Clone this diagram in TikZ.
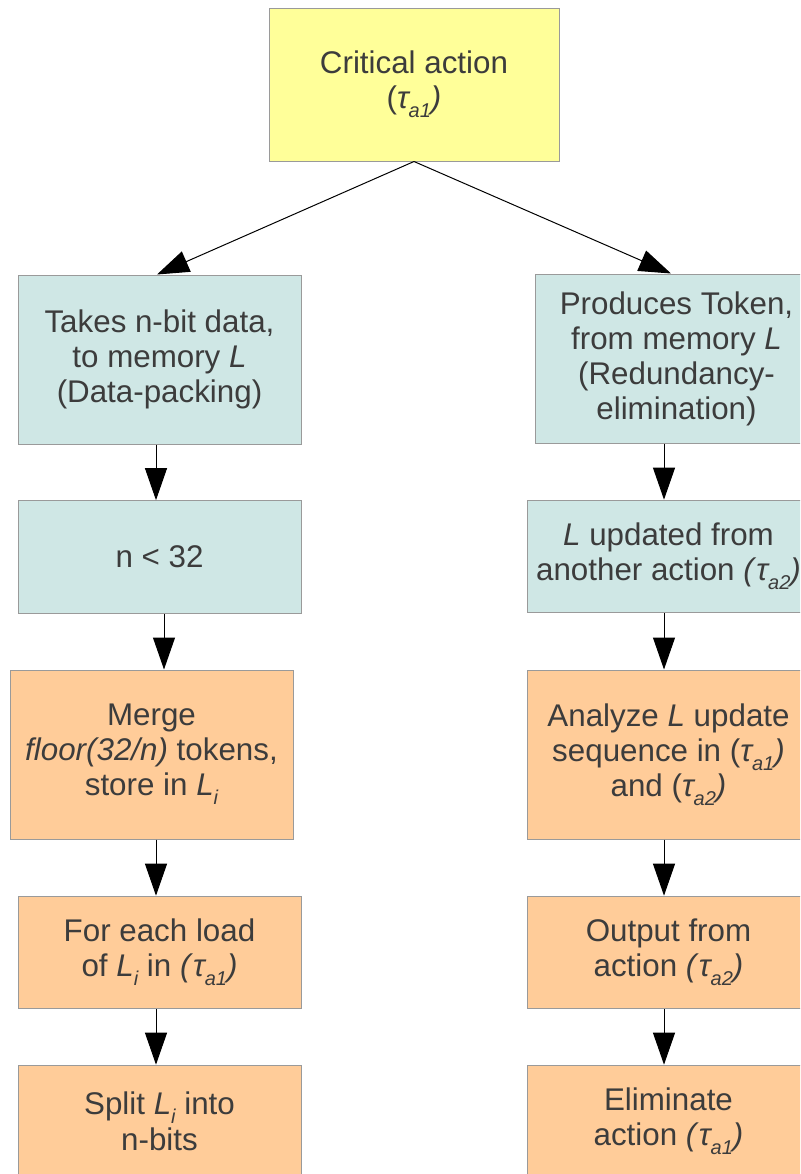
\documentclass[tikz,border=0pt]{standalone}
\usepackage{fontspec}
\setmainfont{Liberation Sans}
\usetikzlibrary{arrows.meta}
\definecolor{boxyellow}{HTML}{FFFF99}
\definecolor{boxcyan}{HTML}{CFE7E5}
\definecolor{boxorange}{HTML}{FFCC99}
\definecolor{boxline}{HTML}{9A9A9A}
\definecolor{txt}{HTML}{3C3C3C}
\newcommand\sbs[1]{\raisebox{-6.5pt}{\fontsize{15}{15}\selectfont\itshape #1}}
\newcommand\tsub[1]{\textit{τ\sbs{a#1})}}
\newcommand\Lsub{\textit{L\sbs{i}}}
\tikzset{
  box/.style={draw=boxline, line width=0.75pt, inner sep=0pt, align=center,
    text=txt, font=\fontsize{23.5}{26.25}\selectfont, minimum width=212.25pt},
  tallbox/.style={box, minimum height=126.75pt},
  shortbox/.style={box, minimum height=84.5pt},
  cyanbox/.style={fill=boxcyan},
  orangebox/.style={fill=boxorange},
  arr/.style={draw=black, line width=0.75pt, -{Triangle[length=24pt, width=16.5pt]}}
}
\begin{document}
\begin{tikzpicture}[x=0.75pt, y=-0.75pt]
\useasboundingbox (0,0) rectangle (800,1174);
\clip (0,0) rectangle (800,1174);
\fill[white] (0,0) rectangle (800,1174);
% top
\node[box, fill=boxyellow, minimum width=217.5pt, minimum height=114.75pt] (T) at (414,84.5) {Critical action\\(\tsub{1}};
% left column
\node[tallbox, cyanbox] (L1) at (159.5,359.5) {Takes n-bit data,\\to memory \textit{L}\\(Data-packing)};
\node[shortbox, cyanbox] (L2) at (159.5,557) {n < 32};
\node[tallbox, orangebox] (L3) at (151.5,754.5) {Merge\\\textit{floor(32/n)} tokens,\\store in \Lsub};
\node[shortbox, orangebox] (L4) at (159.5,952.5) {For each load\\of \Lsub{} in \textit{(}\tsub{1}};
\node[shortbox, orangebox] (L5) at (159.5,1121.5) {Split \Lsub{} into\\[1pt]n-bits};
% right column
\node[tallbox, cyanbox] (R1) at (676.5,358.5) {Produces Token,\\from memory \textit{L}\\(Redundancy-\\elimination)};
\node[shortbox, cyanbox] (R2) at (668.5,556.5) {\textit{L} updated from\\another action \textit{(}\tsub{2}};
\node[tallbox, orangebox] (R3) at (668.5,754.5) {Analyze \textit{L} update\\sequence in (\tsub{1}\\and (\tsub{2}};
\node[shortbox, orangebox] (R4) at (668.5,952.5) {Output from\\action \textit{(}\tsub{2}};
\node[shortbox, orangebox] (R5) at (668.5,1121.5) {Eliminate\\action \textit{(}\tsub{1}};
% arrow columns
\coordinate (tl) at (157,0);
\coordinate (tr) at (671,0);
\coordinate (cl) at (156,0);
\coordinate (cm) at (164,0);
\coordinate (cr) at (664,0);
% connectors
\draw[arr] (T.south) -- (L1.north -| tl);
\draw[arr] (T.south) -- (R1.north -| tr);
\draw[arr] (L1.south -| cl) -- (L2.north -| cl);
\draw[arr] (L2.south -| cm) -- (L3.north -| cm);
\draw[arr] (L3.south -| cl) -- (L4.north -| cl);
\draw[arr] (L4.south -| cl) -- (L5.north -| cl);
\draw[arr] (R1.south -| cr) -- (R2.north -| cr);
\draw[arr] (R2.south -| cr) -- (R3.north -| cr);
\draw[arr] (R3.south -| cr) -- (R4.north -| cr);
\draw[arr] (R4.south -| cr) -- (R5.north -| cr);
\end{tikzpicture}
\end{document}
